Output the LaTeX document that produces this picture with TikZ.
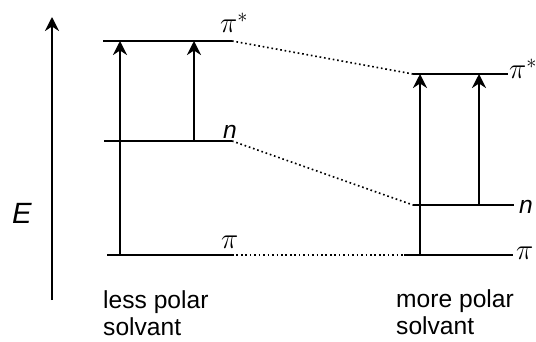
\documentclass[tikz,border=0pt]{standalone}
\usepackage{fontspec}
\setmainfont{Liberation Sans}
\usetikzlibrary{arrows.meta,positioning}

\begin{document}
\begin{tikzpicture}[x=0.03cm, y=-0.03cm,
  level/.style={line width=1.8pt},
  trans/.style={-{Stealth[length=12pt,width=12pt]}, line width=1.8pt},
  corr/.style={line width=1.4pt, dash pattern=on 1.4pt off 2.4pt},
  lbl/.style={inner sep=0pt, anchor=base west, font=\fontsize{21}{23}\selectfont},
  lvl/.style={lbl, font=\fontsize{25}{27}\selectfont}]
\useasboundingbox (0,0) rectangle (536,342);
% Energy axis
\coordinate (Elo) at (52,300);
\coordinate (Ehi) at (52,17);
\draw[trans] (Elo) -- (Ehi);
\node[lbl, anchor=center, font=\fontsize{25}{27}\selectfont\itshape] (E) at (22,213) {E};
% Less polar solvent: levels
\coordinate (lpis-w) at (103,41);  \coordinate (lpis-e) at (232,41);
\coordinate (ln-w) at (104,141);   \coordinate (ln-e) at (232,141);
\coordinate (lpi-w) at (107,255);  \coordinate (lpi-e) at (232,255);
\draw[level] (lpis-w) -- (lpis-e);
\draw[level] (ln-w) -- (ln-e);
\draw[level] (lpi-w) -- (lpi-e);
\node[lvl] (lpis-t) at (220,33) {$\pi^*$};
\node[lbl] (ln-t) at (223,138) {\itshape n};
\node[lvl] (lpi-t) at (221,248) {$\pi$};
% Less polar solvent: transitions
\coordinate (la-lo) at (120,255); \coordinate (la-hi) at (120,41);
\coordinate (lb-lo) at (194,141); \coordinate (lb-hi) at (194,41);
\draw[trans] (la-lo) -- (la-hi);
\draw[trans] (lb-lo) -- (lb-hi);
% More polar solvent: levels
\coordinate (rpis-w) at (413,74);  \coordinate (rpis-e) at (508,74);
\coordinate (rn-w) at (413,205);   \coordinate (rn-e) at (514,205);
\coordinate (rpi-w) at (404,255);  \coordinate (rpi-e) at (513,255);
\draw[level] (rpis-w) -- (rpis-e);
\draw[level] (rn-w) -- (rn-e);
\draw[level] (rpi-w) -- (rpi-e);
\node[lvl] (rpis-t) at (509,79) {$\pi^*$};
\node[lbl] (rn-t) at (519,213) {\itshape n};
\node[lvl] (rpi-t) at (516,259) {$\pi$};
% More polar solvent: transitions
\coordinate (ra-lo) at (420,255); \coordinate (ra-hi) at (420,74);
\coordinate (rb-lo) at (479,205); \coordinate (rb-hi) at (479,74);
\draw[trans] (ra-lo) -- (ra-hi);
\draw[trans] (rb-lo) -- (rb-hi);
% Correlation lines
\draw[corr] (lpis-e) -- (rpis-w);
\draw[corr] (ln-e) -- (rn-w);
\draw[corr] (lpi-e) -- (rpi-w);
% Captions
\node[lbl, align=left] (less) at (103,335) {less polar\\solvant};
\node[lbl, align=left] (more) at (396,334) {more polar\\solvant};
\end{tikzpicture}
\end{document}
